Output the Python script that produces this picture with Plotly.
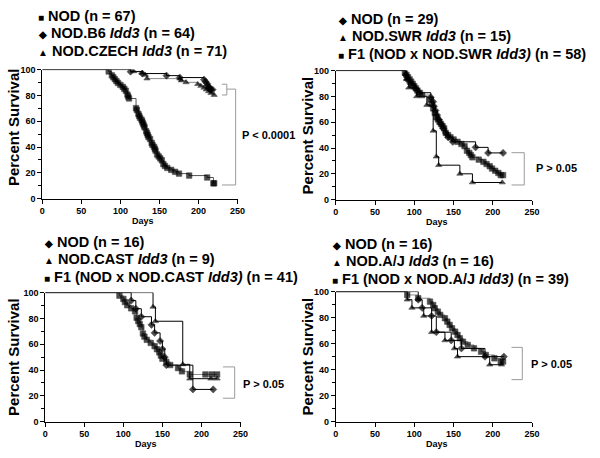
import plotly.graph_objects as go

W, H = 600, 458

# ---------------- data ----------------
# Panel A
a_nod_days = [0, 85, 89, 91, 93, 95, 97, 100, 103, 105, 107, 109, 110, 111, 120, 121, 123, 124, 125, 127, 128, 129, 130, 131, 133, 134, 135, 136, 138, 140, 141, 143, 144, 145, 147, 149, 151, 153, 155, 157, 160, 165, 170, 175, 188, 211, 219, 220]
a_nod_surv = [100, 98.5, 95.5, 94, 92.5, 91, 89.6, 88.1, 86.6, 85.1, 83.6, 80.6, 79.1, 77.6, 70.1, 68.7, 65.7, 64.2, 62.7, 61.2, 59.7, 58.2, 56.7, 55.2, 52.2, 50.7, 49.2, 47.7, 46.2, 43.2, 41.7, 40.2, 38.7, 37.2, 34.2, 32.7, 31.2, 29.7, 26.8, 25.3, 23.8, 22.3, 20.8, 19.4, 17.9, 16.4, 11.9, 11.9]
a_b6_days = [0, 113, 128, 159, 176, 207, 209, 211, 212, 213, 214, 215, 216, 218]
a_b6_surv = [100, 98.4, 96.9, 95.3, 93.8, 92.2, 90.6, 89.1, 87.5, 85.9, 85.9, 84.4, 84.4, 84.4]
a_cz_days = [0, 117, 128, 132, 134, 176, 178, 184, 199, 203, 207, 210, 213, 216, 220]
a_cz_surv = [100, 98.6, 97.2, 95.8, 93, 93, 91.5, 90.1, 88.7, 87.3, 85.9, 84.5, 83.1, 81.7, 80.3]

# Panel B
b_nod_days = [0, 89, 91, 95, 101, 106, 121, 124, 125, 127, 129, 131, 134, 137, 140, 143, 149, 178, 194, 213]
b_nod_surv = [100, 96.6, 93.1, 89.7, 86.2, 82.8, 79.3, 75.9, 72.4, 69, 65.5, 62.1, 58.6, 55.2, 51.7, 48.3, 44.8, 40.5, 36.2, 36.2]
b_swr_days = [0, 90, 93, 103, 116, 124, 128, 131, 158, 174, 212]
b_swr_surv = [100, 93.3, 86.7, 80, 73.3, 53.3, 33.3, 26.7, 20, 13.3, 13.3]
b_f1_days = [0, 88, 90, 92, 94, 96, 98, 100, 102, 104, 107, 110, 120, 122, 124, 126, 128, 130, 132, 134, 136, 138, 140, 143, 146, 150, 155, 160, 164, 167, 170, 172, 174, 182, 188, 192, 196, 199, 203, 207, 210, 213]
b_f1_surv = [100, 98.3, 96.6, 94.8, 93.1, 91.4, 89.7, 87.9, 86.2, 84.5, 82.8, 81, 77.6, 74.1, 70.7, 67.2, 63.8, 62.1, 60.3, 58.6, 56.9, 55.2, 51.7, 50, 48.3, 46.6, 44.8, 43.1, 41.4, 37.9, 36.2, 34.5, 32.8, 31, 29.3, 27.6, 25.9, 24.1, 22.4, 20.7, 19, 19]

# Panel C
c_nod_days = [0, 110, 116, 123, 136, 140, 147, 150, 153, 155, 189, 215]
c_nod_surv = [100, 93.8, 87.5, 81.3, 75, 68.8, 62.5, 56.3, 50, 43.8, 25, 25]
c_cast_days = [0, 138, 141, 176, 185, 212, 220]
c_cast_surv = [100, 88.9, 77.8, 44.4, 33.3, 33.3, 33.3]
c_f1_days = [0, 95, 100, 102, 105, 110, 115, 117, 119, 121, 123, 125, 127, 130, 135, 140, 143, 146, 148, 150, 155, 160, 170, 175, 185, 205, 213, 220]
c_f1_surv = [100, 97.6, 95.1, 92.7, 90.2, 87.8, 85.4, 80.5, 78, 75.6, 73.2, 68.3, 65.9, 63.4, 61, 58.5, 56.1, 53.7, 51.2, 48.8, 46.3, 43.9, 41.5, 39, 36.6, 36.6, 36.6, 36.6]

# Panel D
d_nod_days = [0, 105, 110, 122, 128, 147, 160, 190, 214]
d_nod_surv = [100, 93.8, 87.5, 81.3, 68.8, 62.5, 56.3, 50, 50]
d_aj_days = [0, 91, 97, 112, 122, 139, 151, 155, 196, 211]
d_aj_surv = [100, 93.8, 87.5, 81.3, 68.8, 62.5, 56.3, 50, 43.8, 43.8]
d_f1_days = [0, 91, 105, 120, 124, 126, 130, 133, 139, 142, 145, 148, 152, 155, 158, 162, 168, 176, 185, 191, 202, 210, 213]
d_f1_surv = [100, 97.4, 94.9, 92.3, 89.7, 87.2, 84.6, 82.1, 79.5, 76.9, 74.4, 71.8, 69.2, 66.7, 64.1, 61.5, 59, 56.4, 53.8, 51.3, 48.7, 46.2, 46.2]

x_ticks = [0, 50, 100, 150, 200, 250]
y_ticks = [0, 20, 40, 60, 80, 100]

legend_a = [("■", "NOD (n = 67)"), ("◆", "NOD.B6 <i>Idd3</i> (n = 64)"), ("▲", "NOD.CZECH <i>Idd3</i> (n = 71)")]
legend_b = [("◆", "NOD (n = 29)"), ("▲", "NOD.SWR <i>Idd3</i> (n = 15)"), ("■", "F1 (NOD x NOD.SWR <i>Idd3)</i> (n = 58)")]
legend_c = [("◆", "NOD (n = 16)"), ("▲", "NOD.CAST <i>Idd3</i> (n = 9)"), ("■", "F1 (NOD x NOD.CAST <i>Idd3)</i> (n = 41)")]
legend_d = [("◆", "NOD (n = 16)"), ("▲", "NOD.A/J <i>Idd3</i> (n = 16)"), ("■", "F1 (NOD x NOD.A/J <i>Idd3)</i> (n = 39)")]
p_texts = ["P < 0.0001", "P > 0.05", "P > 0.05", "P > 0.05"]

# ---------------- layout helpers ----------------
FONT = "Arial, Liberation Sans, sans-serif"
BLACK = "#000000"
GRAY = "#8a8a8a"

def px_x(x):
    return x / W

def px_y(y):
    return 1 - y / H

# panel pixel boxes: (left, right, top, bottom)
boxes = [(40, 239, 66, 198), (339, 539, 67, 199), (43, 242, 294, 426), (339, 539, 293, 426)]

fig = go.Figure()

def km(ax, days, surv, symbol, lcolor):
    sizes = [0] + [5.5] * (len(days) - 1)
    fig.add_trace(go.Scatter(
        x=days, y=surv, mode="lines+markers", line=dict(shape="hv", color=lcolor, width=1),
        marker=dict(symbol=symbol, size=sizes, color=BLACK, line=dict(width=0.6, color=BLACK)),
        xaxis="x" + ax, yaxis="y" + ax, showlegend=False, hoverinfo="skip"))

km("", a_nod_days, a_nod_surv, "square", "#555555")
km("", a_cz_days, a_cz_surv, "triangle-up", GRAY)
km("", a_b6_days, a_b6_surv, "diamond", BLACK)

km("2", b_f1_days, b_f1_surv, "square", GRAY)
km("2", b_swr_days, b_swr_surv, "triangle-up", BLACK)
km("2", b_nod_days, b_nod_surv, "diamond", BLACK)

km("3", c_f1_days, c_f1_surv, "square", GRAY)
km("3", c_cast_days, c_cast_surv, "triangle-up", BLACK)
km("3", c_nod_days, c_nod_surv, "diamond", BLACK)

km("4", d_f1_days, d_f1_surv, "square", GRAY)
km("4", d_aj_days, d_aj_surv, "triangle-up", BLACK)
km("4", d_nod_days, d_nod_surv, "diamond", BLACK)

layout = dict(width=W, height=H, margin=dict(l=0, r=0, t=0, b=0),
              paper_bgcolor="white", plot_bgcolor="white", showlegend=False,
              font=dict(family=FONT, color=BLACK))
tickfont = dict(family=FONT, size=9, color=BLACK, weight="bold")
for i, (l, r, t, b) in enumerate(boxes):
    sfx = "" if i == 0 else str(i + 1)
    layout["xaxis" + sfx] = dict(domain=[px_x(l), px_x(r)], range=[0, 250], anchor="y" + sfx,
                                 tickvals=x_ticks, ticks="outside", ticklen=4, tickcolor=BLACK,
                                 showline=True, linecolor=BLACK, linewidth=1, showgrid=False,
                                 zeroline=False, tickfont=tickfont, fixedrange=True)
    layout["yaxis" + sfx] = dict(domain=[px_y(b), px_y(t)], range=[0, 100], anchor="x" + sfx,
                                 tickvals=y_ticks, ticks="outside", ticklen=4, tickcolor=BLACK,
                                 minor=dict(dtick=10, ticks="outside", ticklen=3, tickcolor=BLACK),
                                 showline=True, linecolor=BLACK, linewidth=1, showgrid=False,
                                 zeroline=False, tickfont=tickfont, fixedrange=True)
fig.update_layout(**layout)

ann = []
shapes = []

def text(x, y, s, size, xanchor="left", angle=0, bold=True):
    ann.append(dict(x=px_x(x), y=px_y(y), xref="paper", yref="paper", text=("<b>%s</b>" % s) if bold else s,
                    showarrow=False, xanchor=xanchor, yanchor="middle", textangle=angle,
                    font=dict(family=FONT, size=size, color=BLACK)))

def line(x0, y0, x1, y1, color="#9a9a9a"):
    shapes.append(dict(type="line", xref="paper", yref="paper", x0=px_x(x0), y0=px_y(y0),
                       x1=px_x(x1), y1=px_y(y1), line=dict(color=color, width=1)))

# legends
def legend(items, x, ys):
    for (sym, s), y in zip(items, ys):
        text(x, y, "<span style='font-size:10px'>%s</span> %s" % (sym, s), 14.5)

legend(legend_a, 34, [11, 29, 47])
legend(legend_b, 339, [14, 32, 50])
legend(legend_c, 40, [242, 260, 278])
legend(legend_d, 333, [244, 262, 280])

# axis titles
for (l, r, t, b) in boxes:
    text((l + r) / 2 + 3, b + 23, "Days", 9, xanchor="center")
text(10, 125, "Percent Survival", 15, xanchor="center", angle=-90)
text(310, 133, "Percent Survival", 15, xanchor="center", angle=-90)
text(10, 360, "Percent Survival", 15, xanchor="center", angle=-90)
text(310, 359, "Percent Survival", 15, xanchor="center", angle=-90)

# brackets & p-values
line(223, 81, 228, 81); line(228, 81, 228, 92); line(223, 92, 228, 92)
line(228, 86, 237, 86); line(237, 86, 237, 184); line(223, 184, 237, 184)
text(241, 133, p_texts[0], 11)

line(518, 151, 531, 151); line(531, 151, 531, 184); line(518, 184, 531, 184)
text(541, 167, p_texts[1], 11)

line(224, 370, 236, 370); line(236, 370, 236, 402); line(224, 402, 236, 402)
text(242, 387, p_texts[2], 11)

line(518, 350, 529, 350); line(529, 350, 529, 383); line(518, 383, 529, 383)
text(536, 367, p_texts[3], 11)

fig.update_layout(annotations=ann, shapes=shapes)
fig.write_html("out.html", config={"displayModeBar": False},
               post_script="document.body.style.margin='0px';document.body.style.overflow='hidden';")
